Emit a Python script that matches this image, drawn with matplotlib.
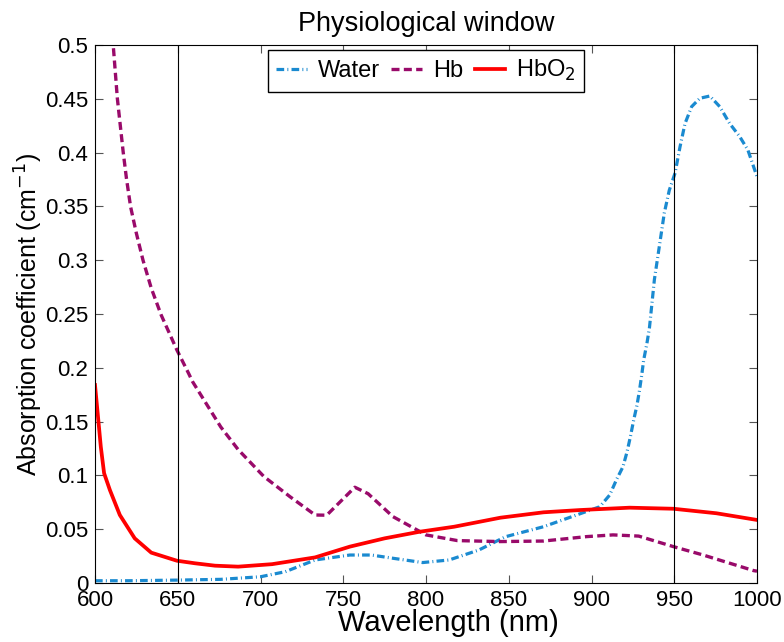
import matplotlib
matplotlib.use("Agg")
import matplotlib.pyplot as plt
from matplotlib.ticker import FuncFormatter

plt.rcParams['font.family'] = ['Liberation Sans', 'DejaVu Sans']

# Water absorption
water_nm = [600, 620, 650, 676, 700, 715, 733, 754, 767, 780, 798, 814, 832, 848, 871, 895,
            905, 911, 915, 919, 921.5, 923.5, 925.5, 927.5, 929, 930.5, 931.5, 933.5, 935,
            938, 941, 944, 947, 950.5, 953.5, 956.5, 960.5, 965.5, 971.5, 977.5, 983.5,
            989.5, 994.5, 1000]
water_val = [0.0021, 0.0021, 0.0027, 0.0034, 0.0058, 0.0105, 0.0214, 0.026, 0.026, 0.023,
             0.019, 0.0214, 0.0307, 0.043, 0.0523, 0.0654, 0.0709, 0.0818, 0.0957, 0.108,
             0.122, 0.136, 0.1515, 0.1654, 0.179, 0.195, 0.207, 0.2228, 0.237, 0.282, 0.313,
             0.344, 0.365, 0.381, 0.4055, 0.427, 0.4427, 0.4505, 0.4526, 0.4427, 0.427,
             0.415, 0.4024, 0.3776]

# Deoxy-haemoglobin
hb_nm = [600, 605, 608, 611, 613.5, 617, 619, 621.5, 625, 629, 634, 640, 649.5, 656.5, 659,
         676, 686.5, 702, 718, 733, 740, 757, 765, 780, 800, 819, 845, 871, 897, 913, 928.5,
         949.5, 967.5, 998, 1000]
hb_val = [0.78, 0.65, 0.57, 0.50, 0.4504, 0.4009, 0.376, 0.3497, 0.325, 0.300, 0.274, 0.249,
          0.2165, 0.195, 0.187, 0.145, 0.124, 0.099, 0.080, 0.0632, 0.063, 0.089, 0.083,
          0.0617, 0.0447, 0.0394, 0.0385, 0.039, 0.0431, 0.0447, 0.0436, 0.0338, 0.026,
          0.0115, 0.011]

# Oxy-haemoglobin
hbo2_nm = [600, 602, 603.5, 605.5, 609, 615, 624, 634, 649.5, 660.5, 672.5, 686.5, 707, 733,
           754, 775, 796, 817, 845, 871, 893, 923, 949.5, 975.5, 1000]
hbo2_val = [0.184, 0.1515, 0.1267, 0.102, 0.0864, 0.0632, 0.0415, 0.0282, 0.0207, 0.0183,
            0.0161, 0.0152, 0.0175, 0.0238, 0.0338, 0.0415, 0.0476, 0.0523, 0.0607, 0.0657,
            0.0678, 0.0700, 0.0690, 0.0648, 0.0586]

window = [650, 950]
x_ticks = [600, 650, 700, 750, 800, 850, 900, 950, 1000]
y_ticks = [0, 0.05, 0.1, 0.15, 0.2, 0.25, 0.3, 0.35, 0.4, 0.45, 0.5]

fig = plt.figure(figsize=(7.84, 6.42), dpi=100)
ax = fig.add_axes([95/784, 1-583/642, (757-95)/784, (583-45)/642])

ax.plot(water_nm, water_val, color='#1a8ad0', lw=2.3, ls=(0, (2.4, 1.0, 0.3, 1.0)),
        label='Water')
ax.plot(hb_nm, hb_val, color='#990a6a', lw=2.4, ls=(0, (2.4, 1.3)), label='Hb')
ax.plot(hbo2_nm, hbo2_val, color='#ff0000', lw=2.7, ls='-', label='HbO$_2$')
for w in window:
    ax.axvline(w, color='black', lw=0.8)

ax.set_xlim(600, 1000)
ax.set_ylim(0, 0.5)
ax.set_xticks(x_ticks)
ax.set_yticks(y_ticks)
ax.yaxis.set_major_formatter(FuncFormatter(lambda v, p: '%g' % round(v, 2)))
ax.tick_params(direction='in', top=True, right=True, labelsize=16, length=6, width=0.8,
               color='#555555', pad=5)
for s in ax.spines.values():
    s.set_linewidth(0.8)

ax.set_xlabel('Wavelength (nm)', fontsize=21)
ax.xaxis.set_label_coords((448 - 95) / 662, (583 - 609) / 538)
ax.set_ylabel('Absorption coefficient (cm$^{-1}$)', fontsize=18, labelpad=0)
ax.set_title('Physiological window', fontsize=19.5, pad=10)

leg = ax.legend(loc='upper center', ncol=3, fontsize=17, frameon=True, fancybox=False,
                edgecolor='black', framealpha=1, handlelength=1.3, columnspacing=0.5,
                handletextpad=0.45, borderpad=0.35, borderaxespad=0,
                bbox_to_anchor=(0.5, 0.991))
leg.get_frame().set_linewidth(1.0)

fig.savefig('out.png', dpi=100)
